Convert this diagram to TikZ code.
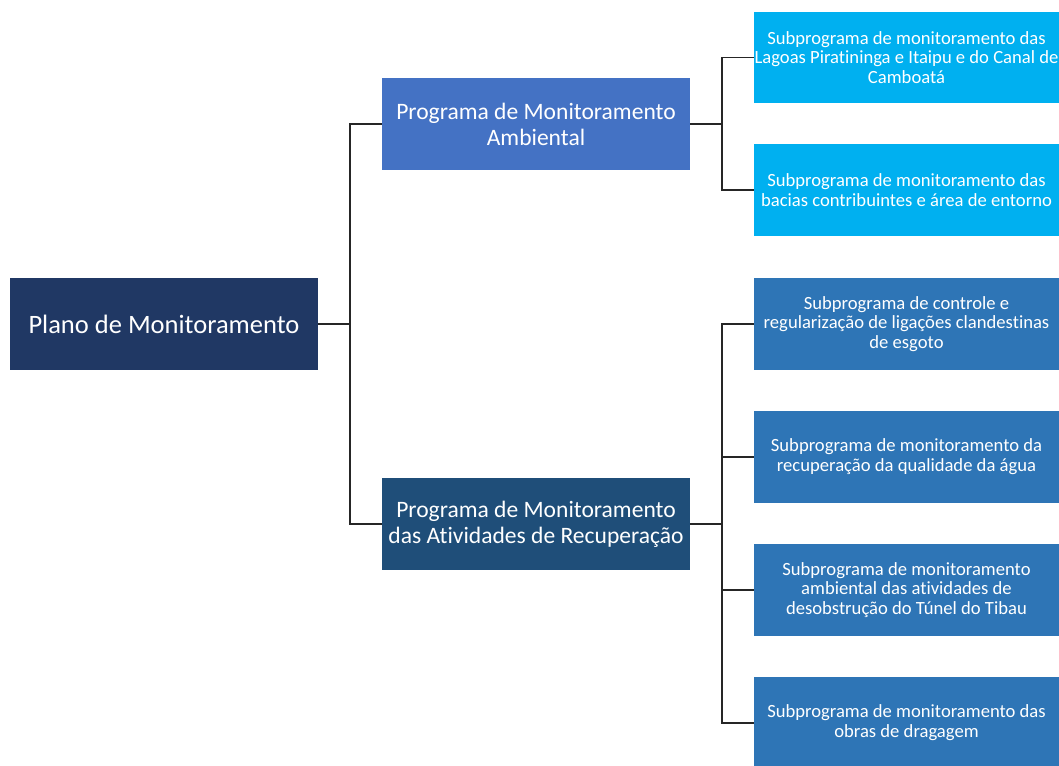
\documentclass[tikz,border=0pt]{standalone}
\usepackage{fontspec}
\setmainfont{Carlito}[Ligatures=NoCommon]
\usepackage{tikz}
\usetikzlibrary{positioning, calc}
\definecolor{plano}{RGB}{32,56,100}
\definecolor{ambiental}{RGB}{68,114,196}
\definecolor{recupera}{RGB}{31,78,121}
\definecolor{lagoa}{RGB}{0,176,240}
\definecolor{obra}{RGB}{46,117,182}

\begin{document}
\begin{tikzpicture}[x=0.02cm, y=-0.02cm,
   every node/.style={text=white, align=center, inner sep=0pt},
   root/.style={rectangle, fill=plano, minimum width=6.16cm, minimum height=1.84cm, font=\fontsize{15.1}{17}\selectfont},
   prog/.style={rectangle, minimum width=6.16cm, minimum height=1.84cm, font=\fontsize{13.4}{14.7}\selectfont},
   sub/.style={rectangle, minimum width=6.1cm, minimum height=1.84cm, font=\fontsize{10.6}{11.3}\selectfont},
   link/.style={draw=black!85, line width=0.8pt}]
  \clip (0,0) rectangle (1059,765);

  % root and programs
  \node[root] (plano) at (164,324) {Plano de Monitoramento};
  \node[prog, fill=ambiental] (pamb) at (536,124) {Programa de Monitoramento\\Ambiental};
  \node[prog, fill=recupera] (prec) at (536,524) {Programa de Monitoramento\\das Atividades de Recupera\c{c}\~ao};

  % subprograms
  \node[sub, fill=lagoa] (s1) at (906.5,57.5) {Subprograma de monitoramento das\\Lagoas Piratininga e Itaipu e do Canal de\\Camboat\'a};
  \node[sub, fill=lagoa] (s2) at (906.5,190) {Subprograma de monitoramento das\\bacias contribuintes e \'area de entorno};
  \node[sub, fill=obra] (s3) at (906.5,324) {Subprograma de controle e\\regulariza\c{c}\~ao de liga\c{c}\~oes clandestinas\\de esgoto};
  \node[sub, fill=obra] (s4) at (906.5,457) {Subprograma de monitoramento da\\recupera\c{c}\~ao da qualidade da \'agua};
  \node[sub, fill=obra] (s5) at (906.5,590) {Subprograma de monitoramento\\ambiental das atividades de\\desobstru\c{c}\~ao do T\'unel do Tibau};
  \node[sub, fill=obra] (s6) at (906.5,723) {Subprograma de monitoramento das\\obras de dragagem};

  % connectors
  \coordinate (j1) at (350,324);
  \coordinate (j2) at (722,124);
  \coordinate (j3) at (722,524);
  \draw[link] (plano.east) -- (j1) |- (pamb.west);
  \draw[link] (j1) |- (prec.west);
  \draw[link] (pamb.east) -- (j2) |- (s1.west);
  \draw[link] (j2) |- (s2.west);
  \draw[link] (prec.east) -- (j3) |- (s3.west);
  \draw[link] (j3) |- (s4.west);
  \draw[link] (j3) |- (s5.west);
  \draw[link] (j3) |- (s6.west);
\end{tikzpicture}
\end{document}
